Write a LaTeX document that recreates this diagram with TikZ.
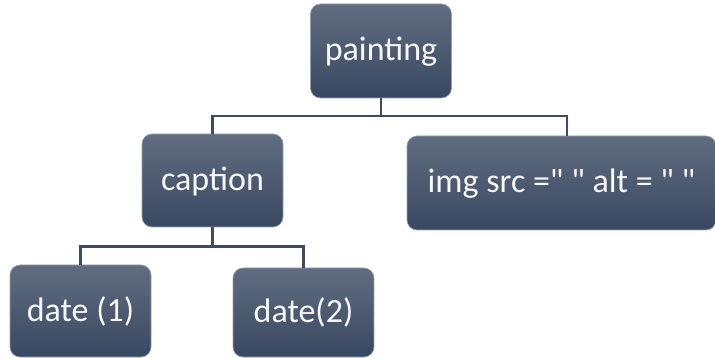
\documentclass[tikz,border=0pt]{standalone}
\usepackage{fontspec}
\setmainfont{Carlito}
\definecolor{tagtop}{RGB}{96,109,128}
\definecolor{tagbot}{RGB}{57,72,98}
\definecolor{tagedge}{RGB}{150,160,175}
\definecolor{tagline}{RGB}{60,76,100}
\usetikzlibrary{positioning}

\begin{document}
\begin{tikzpicture}[x=1pt, y=-1pt,
  tag/.style={draw=tagedge, line width=0.6pt, top color=tagtop, bottom color=tagbot, rounded corners=10pt, minimum width=141pt, minimum height=93pt, align=center, text=white!94!gray, font=\fontsize{34}{40}\selectfont, inner sep=0pt, text height=27pt, text depth=7pt},
  link/.style={draw=tagline, line width=2.4pt}
]
  \useasboundingbox (0,0) rectangle (715,358);

  %% Root element
  \node[tag, minimum height=94pt] (painting) at (381,51) {painting};

  %% Second level
  \node[tag] (caption) at (212.5,180.5) {caption};
  \node[tag, minimum width=309pt, minimum height=94pt] (img) at (561.5,183) {img src =\textquotedbl{} \textquotedbl{} alt = \textquotedbl{} \textquotedbl};

  %% Third level
  \node[tag, minimum height=92pt] (date1) at (80.5,311) {date (1)};
  \node[tag, minimum height=89pt] (date2) at (303.5,312.5) {date(2)};

  %% Branches
  \coordinate (busA) at (381,116);
  \coordinate (busB) at (212.5,246.5);
  \draw[link] (painting.south) -- (busA) -| (caption.north);
  \draw[link] (busA) -| ([xshift=5.5pt]img.north);
  \draw[link] (caption.south) -- (busB) -| (date1.north);
  \draw[link] (busB) -| (date2.north);
\end{tikzpicture}
\end{document}
